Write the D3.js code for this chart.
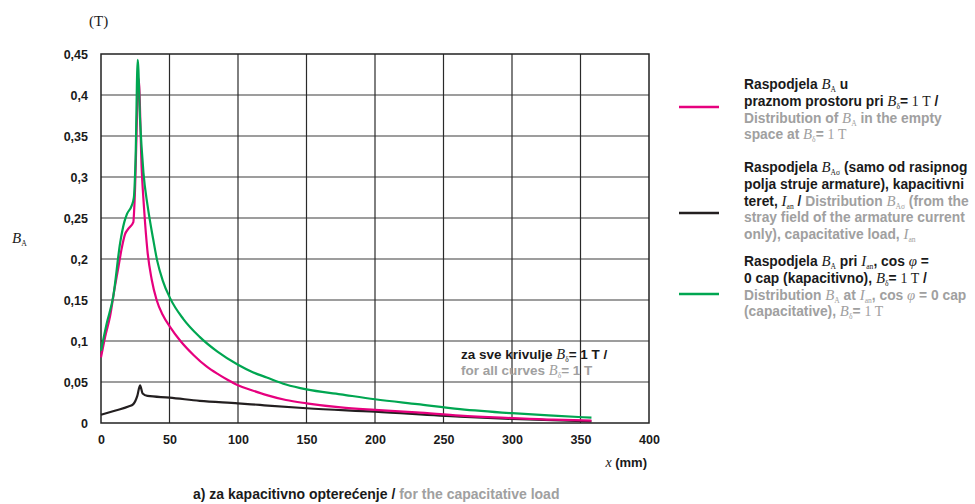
<!DOCTYPE html>
<html>
<head>
<meta charset="utf-8">
<script src="https://cdn.jsdelivr.net/npm/d3@7"></script>
<style>
  body { margin: 0; background: #fff; }
  svg { font-family: "Liberation Sans", Arial, sans-serif; }
</style>
</head>
<body>
<svg id="chart" width="975" height="504"></svg>
<script>
// values (x in mm, B in T)
const xTicks = [0, 50, 100, 150, 200, 250, 300, 350, 400]
const yTicks = [0, 0.05, 0.1, 0.15, 0.2, 0.25, 0.3, 0.35, 0.4, 0.45]

const emptySpace = [
  [0, 0.08], [3, 0.105], [6.6, 0.13], [10, 0.165], [12.7, 0.19], [15, 0.212], [17.5, 0.23],
  [20, 0.237], [23.6, 0.245], [24.5, 0.27], [27.5, 0.42], [29.7, 0.31], [31.5, 0.26],
  [33.9, 0.21], [37, 0.175], [40.6, 0.15], [45, 0.132], [50.5, 0.117], [58, 0.1],
  [67.5, 0.083], [77, 0.069], [86, 0.059], [92, 0.053], [100, 0.046], [110, 0.04],
  [121, 0.034], [135, 0.028], [150, 0.024], [175, 0.019], [200, 0.016], [230, 0.013],
  [262, 0.009], [300, 0.006], [330, 0.004], [358, 0.003]
]
const strayField = [
  [0, 0.01], [10, 0.015], [20, 0.02], [23.6, 0.023], [26.5, 0.033], [28.5, 0.046],
  [30.4, 0.036], [33.9, 0.033], [50, 0.031], [72, 0.027], [100, 0.024], [116, 0.022],
  [150, 0.018], [200, 0.0138], [262, 0.0077], [300, 0.005], [358, 0.002]
]
const capacitive = [
  [0, 0.088], [4, 0.12], [9, 0.155], [14, 0.22], [17, 0.245], [19, 0.255], [22.4, 0.265],
  [24, 0.275], [25.2, 0.32], [26.8, 0.443], [28.5, 0.37], [31, 0.305], [34, 0.265],
  [38, 0.225], [41, 0.198], [45, 0.174], [50.5, 0.152], [60, 0.127], [72, 0.105],
  [85, 0.087], [100, 0.071], [110, 0.0625], [121, 0.0555], [135, 0.047], [150, 0.041],
  [175, 0.035], [200, 0.029], [231, 0.023], [262, 0.017], [300, 0.012], [330, 0.009], [358, 0.0065]
]

const DARK = '#1a1a1a', GRAY = '#a0a0a0'

let svg = d3.select('#chart')
let plotLeft = 101, plotRight = 649, plotTop = 54, plotBottom = 423

let xScale = d3.scaleLinear().domain([0, 400]).range([plotLeft, plotRight])
let yScale = d3.scaleLinear().domain([0, 0.45]).range([plotBottom, plotTop])
let fmt = d => d3.format('')(d).replace('.', ',')

// grid
svg.append('g').selectAll('line').data(yTicks.slice(1, -1)).enter().append('line')
  .attr('x1', plotLeft).attr('x2', plotRight)
  .attr('y1', d => yScale(d)).attr('y2', d => yScale(d))
  .attr('stroke', '#3c3c3c').attr('stroke-width', 1.2)
svg.append('g').selectAll('line').data(xTicks.slice(1, -1)).enter().append('line')
  .attr('y1', plotTop).attr('y2', plotBottom)
  .attr('x1', d => xScale(d)).attr('x2', d => xScale(d))
  .attr('stroke', '#2a2a2a').attr('stroke-width', 1.2)
svg.append('rect').attr('x', plotLeft).attr('y', plotTop)
  .attr('width', plotRight - plotLeft).attr('height', plotBottom - plotTop)
  .attr('fill', 'none').attr('stroke', '#222').attr('stroke-width', 1.5)

// axes (labels only, no tick marks)
let xAxis = d3.axisBottom(xScale).tickValues(xTicks).tickSize(0).tickPadding(12).tickFormat(fmt)
let gx = svg.append('g').attr('transform', `translate(0,${plotBottom})`).call(xAxis)
let yAxis = d3.axisLeft(yScale).tickValues(yTicks).tickSize(0).tickPadding(13).tickFormat(fmt)
let gy = svg.append('g').attr('transform', `translate(${plotLeft},0)`).call(yAxis)
gx.select('.domain').remove()
gy.select('.domain').remove()
svg.selectAll('.tick text').attr('font-size', 12.5).attr('fill', DARK).attr('font-weight', 'bold')
  .attr('font-family', '"Liberation Sans", Arial, sans-serif')

// curves
let line = d3.line().x(d => xScale(d[0])).y(d => yScale(d[1])).curve(d3.curveMonotoneX)
let series = [
  { data: strayField, color: '#231f20' },
  { data: emptySpace, color: '#e6007e' },
  { data: capacitive, color: '#00a651' }
]
svg.append('g').selectAll('path').data(series).enter().append('path')
  .attr('d', d => line(d.data))
  .attr('fill', 'none')
  .attr('stroke', d => d.color)
  .attr('stroke-width', 2.2)
  .attr('stroke-linejoin', 'round')

// rich text helper: segments of [text, kind, colour]
// kind: s = sans bold, m = serif italic, n = serif upright, u = subscript, a = bold after subscript
function richLine(x, y, segs, size) {
  size = size || 14
  let t = svg.append('text').attr('x', x).attr('y', y).attr('font-size', size)
  segs.forEach(s => {
    let [txt, kind, col] = s
    let sp = t.append('tspan').text(txt).attr('fill', col || DARK)
    if (kind === 's') sp.attr('font-weight', 'bold')
    if (kind === 'm') sp.attr('font-family', '"Liberation Serif", serif').attr('font-style', 'italic').attr('font-size', size + 1)
    if (kind === 'n') sp.attr('font-family', '"Liberation Serif", serif').attr('font-size', size)
    if (kind === 'u') sp.attr('font-family', '"Liberation Serif", serif').attr('font-size', size * 0.55).attr('dy', 3)
    if (kind === 'a') sp.attr('dy', -3).attr('font-weight', 'bold')
  })
  return t
}

// legend
let legend = [
  { color: '#e6007e', ly: 107, y0: 89, lines: [
    [['Raspodjela ', 's'], ['B', 'm'], ['A', 'u'], [' u', 'a']],
    [['praznom prostoru pri ', 's'], ['B', 'm'], ['δ', 'u'], ['= ', 'a'], ['1 T', 'n'], [' /', 's']],
    [['Distribution of ', 's', GRAY], ['B', 'm', GRAY], ['A', 'u', GRAY], [' in the empty', 'a', GRAY]],
    [['space at ', 's', GRAY], ['B', 'm', GRAY], ['δ', 'u', GRAY], ['= ', 'a', GRAY], ['1 T', 'n', GRAY]]
  ] },
  { color: '#231f20', ly: 213, y0: 172, lines: [
    [['Raspodjela ', 's'], ['B', 'm'], ['Aσ', 'u'], [' (samo od rasipnog', 'a']],
    [['polja struje armature), kapacitivni', 's']],
    [['teret, ', 's'], ['I', 'm'], ['an', 'u'], [' / ', 'a'], ['Distribution ', 's', GRAY], ['B', 'm', GRAY], ['Aσ', 'u', GRAY], [' (from the', 'a', GRAY]],
    [['stray field of the armature current', 's', GRAY]],
    [['only), capacitative load, ', 's', GRAY], ['I', 'm', GRAY], ['an', 'u', GRAY]]
  ] },
  { color: '#00a651', ly: 294, y0: 266, lines: [
    [['Raspodjela ', 's'], ['B', 'm'], ['A', 'u'], [' pri ', 'a'], ['I', 'm'], ['an', 'u'], [', cos ', 'a'], ['φ', 'm'], [' =', 's']],
    [['0 cap (kapacitivno), ', 's'], ['B', 'm'], ['δ', 'u'], ['= ', 'a'], ['1 T', 'n'], [' /', 's']],
    [['Distribution ', 's', GRAY], ['B', 'm', GRAY], ['A', 'u', GRAY], [' at ', 'a', GRAY], ['I', 'm', GRAY], ['an', 'u', GRAY], [', cos ', 'a', GRAY], ['φ', 'm', GRAY], [' = 0 cap', 's', GRAY]],
    [['(capacitative), ', 's', GRAY], ['B', 'm', GRAY], ['δ', 'u', GRAY], ['= ', 'a', GRAY], ['1 T', 'n', GRAY]]
  ] }
]
legend.forEach(item => {
  svg.append('line').attr('x1', 679).attr('x2', 719)
    .attr('y1', item.ly).attr('y2', item.ly)
    .attr('stroke', item.color).attr('stroke-width', 2.5)
  item.lines.forEach((segs, i) => richLine(744, item.y0 + i * 16.8, segs, 13.8))
})

// note inside plot
richLine(461, 359, [['za sve krivulje ', 's'], ['B', 'm'], ['δ', 'u'], ['= 1 T /', 'a']], 13.5)
richLine(461, 375, [['for all curves ', 's', GRAY], ['B', 'm', GRAY], ['δ', 'u', GRAY], ['= 1 T', 'a', GRAY]], 13.5)

// axis titles
richLine(89, 26, [['(T)', 'n']], 15)
richLine(12, 243, [['B', 'm'], ['A', 'u']], 14)
richLine(647, 467, [['x', 'm'], [' (mm)', 's']], 13).attr('text-anchor', 'end')

// caption
richLine(193, 499, [['a) za kapacitivno opterećenje / ', 's'], ['for the capacitative load', 's', GRAY]], 14)
</script>
</body>
</html>
